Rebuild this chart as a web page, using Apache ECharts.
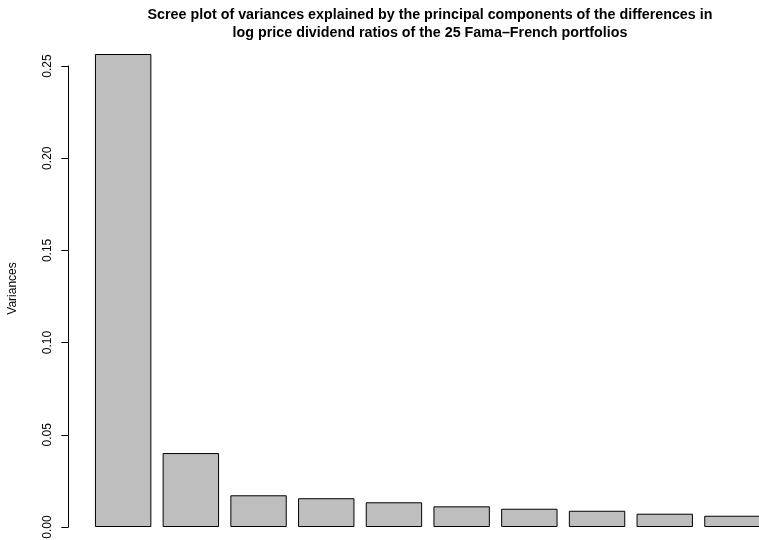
<!DOCTYPE html>
<html>
<head>
<meta charset="utf-8">
<script src="https://cdn.jsdelivr.net/npm/echarts@6/dist/echarts.min.js"></script>
<style>
  html, body { margin: 0; padding: 0; background: #fff; }
  #chart { width: 759px; height: 540px; }
</style>
</head>
<body>
<div id="chart"></div>
<script>
// principal components (axis is not drawn in the original)
const components = ['PC1', 'PC2', 'PC3', 'PC4', 'PC5', 'PC6', 'PC7', 'PC8', 'PC9', 'PC10']
// variances
const variances = [0.2565, 0.0401, 0.0172, 0.0156, 0.0134, 0.0112, 0.0099, 0.0088, 0.0072, 0.0061]
const yTicks = [0, 0.05, 0.10, 0.15, 0.20, 0.25]

const fontFam = '"Liberation Sans", Arial, Helvetica, sans-serif'

const chart = echarts.init(document.getElementById('chart'))
chart.setOption({
  backgroundColor: '#fff',
  animation: false,
  title: {
    text: 'Scree plot of variances explained by the principal components of the differences in\nlog price dividend ratios of the 25 Fama\u2013French portfolios',
    left: 425,
    top: 1,
    textAlign: 'center',
    textStyle: {
      fontFamily: fontFam,
      fontSize: 14.3,
      fontWeight: 'bold',
      lineHeight: 18,
      color: '#000'
    }
  },
  grid: {
    left: 89.3,
    top: 66,
    width: 677,
    height: 461,
    outerBoundsMode: 'none'
  },
  xAxis: {
    type: 'category',
    data: components,
    show: false
  },
  yAxis: {
    type: 'value',
    min: yTicks[0],
    max: yTicks[yTicks.length - 1],
    interval: 0.05,
    offset: 21,
    name: 'Variances',
    nameLocation: 'middle',
    nameGap: 50,
    nameTextStyle: {
      fontFamily: fontFam,
      fontSize: 12,
      color: '#000',
      padding: [0, 0, 0, 16]
    },
    axisLine: { show: true, lineStyle: { color: '#000', width: 1 } },
    axisTick: { show: true, length: 7, lineStyle: { color: '#000' } },
    axisLabel: {
      rotate: 90,
      margin: 15,
      fontFamily: fontFam,
      fontSize: 12,
      color: '#000',
      formatter: v => v.toFixed(2)
    },
    splitLine: { show: false }
  },
  series: [{
    type: 'bar',
    data: variances,
    barCategoryGap: '16.7%',
    clip: false,
    itemStyle: {
      color: '#bebebe',
      borderColor: '#000',
      borderWidth: 1
    }
  }]
})
</script>
</body>
</html>
